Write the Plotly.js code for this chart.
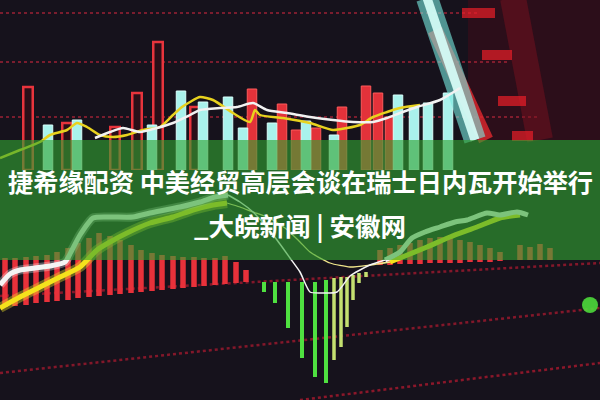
<!DOCTYPE html>
<html><head><meta charset="utf-8">
<script src="https://cdn.plot.ly/plotly-3.0.1.min.js"></script>
<style>html,body{margin:0;padding:0;background:#16121c;}#chart{width:600px;height:400px;}</style>
</head><body><div id="chart"></div>
<script>
// ---------- top panel: volume bars + moving averages (x = bar index) ----------
const hollowX = [2.8, 6.7, 11.5, 13.7, 15.8, 19.5];
const hollowV = [83, 47, 43, 77, 128, 63];
const upX = [25.2, 28.2, 29.6, 31.6, 34.2, 36.6, 37.8, 39.0];
const upV = [81, 66, 40, 42, 63, 84, 77, 53];
const downX = [4.8, 7.7, 15.2, 18.1, 20.3, 22.8, 24.3, 27.2, 30.6, 33.4, 39.8, 41.4, 42.8, 44.8];
const downV = [45, 50, 45, 79, 68, 73, 42, 47, 49, 35, 75, 63, 67, 77];
const maYellowX = [0, 2.0, 4.0, 5.0, 6.7, 7.7, 8.7, 10.0, 11.3, 12.7, 14.3, 16.0, 17.3, 18.2, 19.0, 20.0, 21.3, 23.3, 25.0, 25.5, 26.0, 28.3, 31.0, 33.3, 34.7, 36.0, 37.3, 38.7, 40.0, 42.0];
const maYellowV = [12, 20, 28, 35, 40, 47, 43, 35, 33, 35, 40, 43, 55, 63, 68, 73, 70, 57, 48, 60, 55, 52, 47, 40, 42, 45, 53, 58, 62, 65];
const maWhiteX = [9.5, 11.0, 12.3, 14.0, 15.7, 17.3, 19.0, 20.0, 22.0, 23.7, 25.3, 26.7, 28.7, 31.0, 33.3, 35.3, 37.3, 38.7, 40.0, 41.7, 44.0, 46.0];
const maWhiteV = [32, 38, 42, 38, 42, 47, 55, 60, 62, 63, 67, 60, 57, 53, 50, 48, 48, 52, 57, 63, 70, 82];
// blurred foreground strokes (top right)
const cyanSlantX = [42.7, 47.5], cyanSlantV = [172, 30];
const redSlantX = [43.5, 48.6], redSlantV = [140, 30];
const maroonX = [51.3, 54.0], maroonV = [172, 30];
const blobX = [46.2, 49.5, null, 48.2, 51.2, null, 49.8, 52.6, null, 51.2, 53.3];
const blobV = [157, 157, null, 115, 115, null, 69, 69, null, 34, 34];

// ---------- bottom panel: MACD ----------
const histUpX = [0.5, 1.5, 2.6, 3.6, 4.7, 5.7, 6.8, 7.8, 8.9, 9.9, 11.0, 12.0, 13.1, 14.1, 15.2, 16.2, 17.3, 18.3, 19.4, 20.4, 21.5, 22.5, 23.6, 24.6,
                 38, 39, 40, 41, 42, 43, 44, 45, 46, 47, 48, 49, 50, 52, 53, 54, 55];
const histUpBase = [-22, -21, -20, -18, -17, -16, -15, -13, -12, -11, -10, -9, -8, -7, -6, -5, -4, -3, -2, -1, 0, 1, 2, 3,
                    20, 20, 21, 21, 21, 22, 22, 22, 22, 23, 23, 23, 24, 25, 25, 25, 25];
const histUpV = [49, 48, 48, 47, 47, 49, 52, 55, 59, 63, 59, 54, 48, 42, 38, 35, 33, 31, 30, 28, 27, 28, 21, 12,
                 15, 17, 19, 21, 24, 25, 26, 25, 23, 20, 17, 14, 9, 15, 13, 16, 12];
const histDnX = [26.4, 27.5, 28.8, 30.2, 31.5, 32.6];
const histDnBase = [3, 3, 3, 3, 3, 5];
const histDnV = [-10, -21, -46, -76, -95, -103];
const histDn2X = [33.4, 34.1, 34.7, 35.3, 35.9, 36.6];
const histDn2Base = [7, 8, 8, 10, 12, 13];
const histDn2V = [-82, -70, -50, -25, -10, -5];
const difX = [0, 1.0, 2.0, 3.5, 5.0, 6.5, 7.2, 8.0, 9.3, 11.0, 13.3, 15.0, 16.5, 18.0, 20.0, 21.5, 22.8, 24.0, 25.3, 26.5, 27.7, 29.0, 30.0, 31.0, 32.0, 33.7, 35.0, 36.0, 37.0, 38.5, 40.0, 41.2, 42.5, 44.0, 45.5, 46.7, 48.7, 50.0, 51.7, 52.8];
const difV = [0, 11, 15, 17, 19, 23, 35, 50, 67, 68, 68, 72, 75, 78, 83, 88, 90, 83, 73, 60, 45, 27, 13, -7, -8, -7, 9, 15, 20, 25, 33, 47, 53, 58, 63, 65, 72, 70, 73, 70];
const deaX = [0, 2.0, 4.0, 6.0, 8.0, 9.7, 11.0, 12.7, 15.0, 17.3, 19.3, 21.3, 22.7, 24.0, 25.3, 26.7, 28.5, 30.0, 31.0, 33.0, 35.0, 37.0, 39.0, 40.0, 42.7, 45.0, 47.7, 50.0, 52.0];
const deaV = [-23, -12, -2, 8, 18, 35, 43, 52, 62, 68, 75, 80, 82, 78, 73, 68, 57, 43, 33, 22, 18, 20, 23, 27, 38, 48, 58, 67, 70];
const glowX = [59.0], glowV = [-20];

// ---------- headline ----------
const headline1 = '捷希缘配资 中美经贸高层会谈在瑞士日内瓦开始举行';
const headline2 = '_大皖新闻 | 安徽网';

function part(xs, vs, a, b) { return { x: xs.slice(a, b + 1), y: vs.slice(a, b + 1) }; }
function line(p, color, width, yaxis, extra) {
  return Object.assign({ type: 'scatter', mode: 'lines', x: p.x, y: p.y, yaxis: yaxis,
    line: { color: color, width: width, shape: 'spline', smoothing: 0.6 }, hoverinfo: 'skip' }, extra || {});
}

const traces = [
  // top panel
  line({ x: maroonX, y: maroonV }, 'rgba(120,15,30,0.5)', 26, 'y'),
  { type: 'bar', x: hollowX, y: hollowV, width: 0.95, yaxis: 'y',
    marker: { color: '#2a0f18', line: { color: '#e8343c', width: 2.5 } } },
  { type: 'bar', x: upX, y: upV, width: 0.95, yaxis: 'y',
    marker: { color: '#e3323a', line: { color: '#ff5a5a', width: 1 } } },
  { type: 'bar', x: downX, y: downV, width: 0.95, yaxis: 'y',
    marker: { color: '#a9f2ec', line: { color: '#d8fffb', width: 1 } } },
  line({ x: redSlantX, y: redSlantV }, 'rgba(225,40,45,0.8)', 15, 'y'),
  line({ x: cyanSlantX, y: cyanSlantV }, 'rgba(120,235,225,0.6)', 22, 'y'),
  line({ x: cyanSlantX, y: cyanSlantV }, 'rgba(215,255,250,0.9)', 9, 'y'),
  line({ x: blobX, y: blobV }, 'rgba(235,30,40,0.7)', 10, 'y', { connectgaps: false }),
  line({ x: maYellowX, y: maYellowV }, '#e8d21e', 2.5, 'y'),
  line({ x: maWhiteX, y: maWhiteV }, '#f2f2f2', 2.5, 'y'),
  // bottom panel
  { type: 'bar', x: histUpX, y: histUpV, base: histUpBase, width: 0.55, yaxis: 'y2',
    marker: { color: '#e8313a' } },
  { type: 'bar', x: histDnX, y: histDnV, base: histDnBase, width: 0.4, yaxis: 'y2',
    marker: { color: '#4fe040' } },
  { type: 'bar', x: histDn2X, y: histDn2V, base: histDn2Base, width: 0.35, yaxis: 'y2',
    marker: { color: '#c4e070' } },
  line(part(deaX, deaV, 0, 12), 'rgba(240,225,40,0.4)', 10, 'y2'),
  line(part(deaX, deaV, 0, 12), '#f4e21c', 5, 'y2'),
  line(part(deaX, deaV, 12, 22), '#efe58a', 1.3, 'y2'),
  line(part(deaX, deaV, 22, 28), '#f4e21c', 5, 'y2'),
  line(part(difX, difV, 0, 16), 'rgba(255,255,255,0.3)', 9, 'y2'),
  line(part(difX, difV, 0, 16), '#f4f4f4', 5, 'y2'),
  line(part(difX, difV, 16, 29), '#f4f4f4', 1.5, 'y2'),
  line(part(difX, difV, 29, 39), '#f4f4f4', 5, 'y2'),
  { type: 'scatter', mode: 'markers', x: glowX, y: glowV, yaxis: 'y2', hoverinfo: 'skip',
    marker: { color: 'rgba(80,230,60,0.85)', size: 16, line: { width: 0 } } }
];

function grid(x0, y0, x1, y1, w, c) {
  return { type: 'line', xref: 'paper', yref: 'paper', x0: x0, y0: y0, x1: x1, y1: y1, layer: 'below',
    line: { color: c, width: w, dash: 'dot' } };
}

const layout = {
  width: 600, height: 400,
  margin: { l: 0, r: 0, t: 0, b: 0 },
  paper_bgcolor: '#16121c', plot_bgcolor: 'rgba(0,0,0,0)',
  showlegend: false, barmode: 'overlay',
  xaxis: { range: [0, 60], visible: false, fixedrange: true },
  yaxis: { domain: [0.575, 1], range: [0, 170], visible: false, fixedrange: true },
  yaxis2: { domain: [0, 0.65], range: [-115, 145], visible: false, fixedrange: true },
  shapes: [
    { type: 'rect', xref: 'paper', yref: 'paper', x0: 0.78, x1: 1, y0: 0.65, y1: 1, layer: 'below',
      fillcolor: 'rgba(70,10,25,0.45)', line: { width: 0 } },
    grid(0, 0.9675, 0.8, 0.9675, 1.6, 'rgba(170,35,55,0.9)'),
    grid(0, 0.845, 0.85, 0.845, 1.6, 'rgba(170,35,55,0.9)'),
    grid(0, 0.7075, 0.9, 0.7075, 1.6, 'rgba(170,35,55,0.9)'),
    grid(0, 0.26, 1, 0.3425, 2.5, 'rgba(150,25,45,0.85)'),
    grid(0, 0.0675, 1, 0.23, 2.5, 'rgba(150,25,45,0.85)'),
    grid(0.5, 0.0, 1, 0.0925, 2.5, 'rgba(160,25,45,0.85)'),
    { type: 'rect', xref: 'paper', yref: 'paper', x0: 0, x1: 1, y0: 0.35, y1: 0.65, layer: 'above',
      fillcolor: 'rgb(50,165,50)', opacity: 0.62, line: { width: 0 } }
  ],
  annotations: [
    { text: headline1, xref: 'paper', yref: 'paper', x: 0.5, y: 0.5475, xanchor: 'center', yanchor: 'middle',
      showarrow: false, font: { family: 'Noto Sans CJK SC, Noto Sans, sans-serif', size: 25.2, color: '#ffffff', weight: 700 } },
    { text: headline2, xref: 'paper', yref: 'paper', x: 0.5, y: 0.44, xanchor: 'center', yanchor: 'middle',
      showarrow: false, font: { family: 'Noto Sans CJK SC, Noto Sans, sans-serif', size: 25.5, color: '#ffffff', weight: 700 } }
  ]
};

Plotly.newPlot('chart', traces, layout, { staticPlot: true, displayModeBar: false });
</script>
</body></html>
